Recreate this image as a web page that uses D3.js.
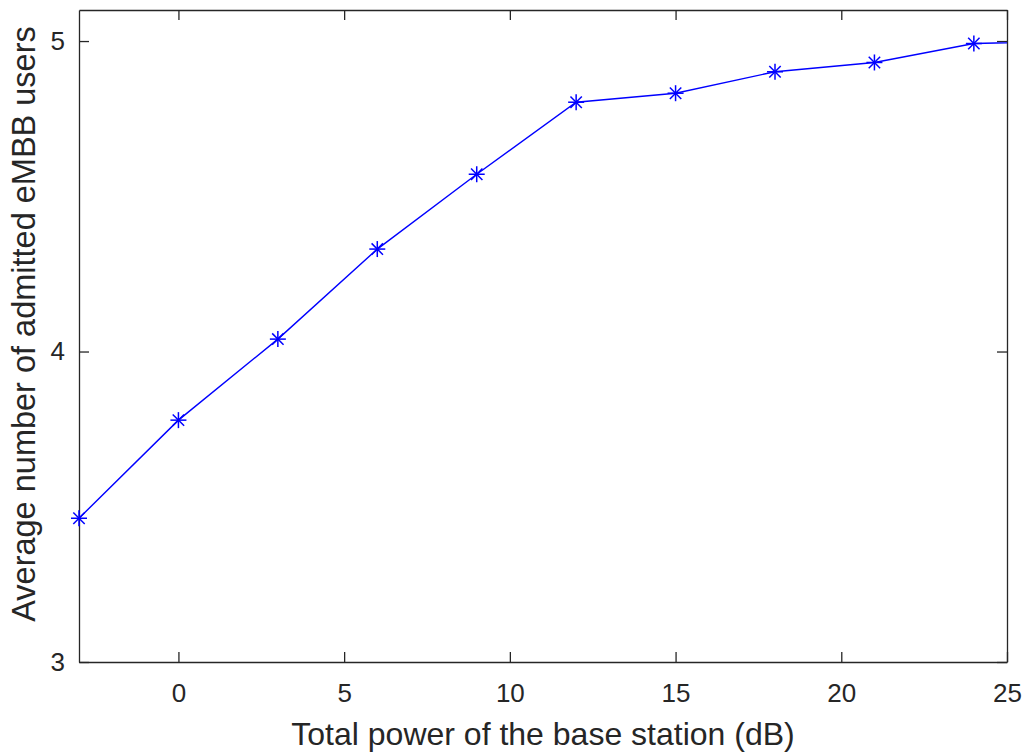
<!DOCTYPE html>
<html>
<head>
<meta charset="utf-8">
<script src="https://cdn.jsdelivr.net/npm/d3@7"></script>
<style>
  body { margin: 0; background: #fff; }
  text { font-family: "Liberation Sans", Arial, sans-serif; fill: #262626; }
</style>
</head>
<body>
<div id="chart"></div>
<script>
// power levels (dB) and average admitted eMBB users
const powerDb = [-3, 0, 3, 6, 9, 12, 15, 18, 21, 24, 27];
const admitted = [3.463, 3.779, 4.040, 4.330, 4.571, 4.803, 4.832, 4.901, 4.931, 4.992, 5.0];
const xTicks = [0, 5, 10, 15, 20, 25];
const yTicks = [3, 4, 5];

const W = 1025, H = 753;
const margin = { top: 10, right: 18, bottom: 91, left: 79 };
const width = W - margin.left - margin.right,
  height = H - margin.top - margin.bottom;

const svg = d3.select('#chart').append('svg')
  .attr('width', W)
  .attr('height', H);
const g = svg.append('g')
  .attr('transform', `translate(${margin.left}, ${margin.top})`);

const x = d3.scaleLinear().domain([-3, 25]).range([0, width]);
const y = d3.scaleLinear().domain([3, 5.1]).range([height, 0]);

const axisColor = '#262626';
const tickLen = 10;
const fmt = d3.format('d');

// bottom / left axes with labels, ticks pointing inward
const xAxis = g.append('g')
  .attr('transform', `translate(0, ${height})`)
  .call(d3.axisBottom(x).tickValues(xTicks).tickFormat(fmt).tickSizeInner(-tickLen).tickSizeOuter(0).tickPadding(22));
const yAxis = g.append('g')
  .call(d3.axisLeft(y).tickValues(yTicks).tickFormat(fmt).tickSizeInner(-tickLen).tickSizeOuter(0).tickPadding(14));
// mirrored top / right ticks
const xTop = g.append('g')
  .call(d3.axisTop(x).tickValues(xTicks).tickSizeInner(-tickLen).tickSizeOuter(0).tickFormat(''));
const yRight = g.append('g')
  .attr('transform', `translate(${width}, 0)`)
  .call(d3.axisRight(y).tickValues(yTicks).tickSizeInner(-tickLen).tickSizeOuter(0).tickFormat(''));

[xAxis, yAxis, xTop, yRight].forEach(a => {
  a.attr('font-size', null).attr('font-family', null);
  a.selectAll('.domain').attr('stroke', axisColor).attr('stroke-width', 1.3);
  a.selectAll('.tick line').attr('stroke', axisColor).attr('stroke-width', 1.3);
  a.selectAll('.tick text')
    .attr('fill', axisColor)
    .style('font-size', '26px');
});

g.append('defs').append('clipPath').attr('id', 'clip')
  .append('rect').attr('width', width).attr('height', height);

const line = d3.line()
  .x((d, i) => x(powerDb[i]))
  .y(d => y(d));

g.append('path')
  .datum(admitted)
  .attr('clip-path', 'url(#clip)')
  .attr('fill', 'none')
  .attr('stroke', '#0000ff')
  .attr('stroke-width', 1.4)
  .attr('d', line);

// asterisk markers
const r = 8, rd = 5.7;
const marks = g.append('g')
  .selectAll('g')
  .data(admitted.map((v, i) => ({ p: powerDb[i], v: v })).filter(d => d.p <= 25))
  .enter().append('g')
  .attr('transform', d => `translate(${x(d.p)}, ${y(d.v)})`)
  .attr('stroke', '#0000ff')
  .attr('stroke-width', 1.5);
marks.append('line').attr('x1', -r).attr('x2', r);
marks.append('line').attr('y1', -r).attr('y2', r);
marks.append('line').attr('x1', -rd).attr('y1', -rd).attr('x2', rd).attr('y2', rd);
marks.append('line').attr('x1', -rd).attr('y1', rd).attr('x2', rd).attr('y2', -rd);

svg.append('text')
  .attr('x', margin.left + width / 2)
  .attr('y', 745)
  .attr('text-anchor', 'middle')
  .style('font-size', '32px')
  .text('Total power of the base station (dB)');

svg.append('text')
  .attr('transform', `translate(35, 324) rotate(-90)`)
  .attr('text-anchor', 'middle')
  .style('font-size', '32.5px')
  .text('Average number of admitted eMBB users');
</script>
</body>
</html>
